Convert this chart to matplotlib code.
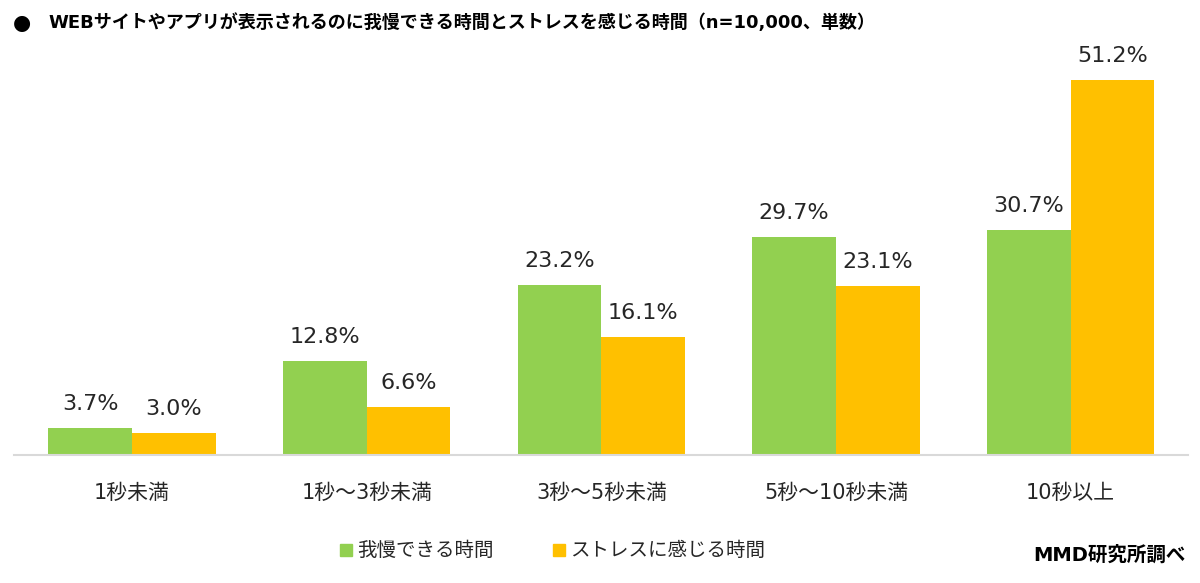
import matplotlib
matplotlib.use("Agg")
import matplotlib.pyplot as plt
import numpy as np
from matplotlib.patches import Rectangle

plt.rcParams['font.family'] = ['DejaVu Sans', 'Noto Sans CJK JP']

categories = ["1秒未満", "1秒〜3秒未満", "3秒〜5秒未満", "5秒〜10秒未満", "10秒以上"]
series_names = ["我慢できる時間", "ストレスに感じる時間"]
gaman = [3.7, 12.8, 23.2, 29.7, 30.7]
stress = [3.0, 6.6, 16.1, 23.1, 51.2]
title = "WEBサイトやアプリが表示されるのに我慢できる時間とストレスを感じる時間（n=10,000、単数）"
source = "MMD研究所調べ"

green = "#92D050"
orange = "#FFC000"

fig = plt.figure(figsize=(12, 5.83), dpi=100)
ax = fig.add_axes([14/1200, (583-455)/583, 1174/1200, (455-52)/583])

x = np.arange(len(categories))
w = 0.357
b1 = ax.bar(x - w/2, gaman, w, color=green)
b2 = ax.bar(x + w/2, stress, w, color=orange)

for bars, vals in ((b1, gaman), (b2, stress)):
    for r, v in zip(bars, vals):
        ax.annotate(f"{v:.1f}%", (r.get_x() + r.get_width()/2, v),
                    xytext=(0, 10), textcoords="offset points",
                    ha="center", va="bottom", fontsize=16, color="#262626")

ax.set_xlim(-0.503, 4.5)
ax.set_ylim(0, 55)
for s in ["top", "right", "left"]:
    ax.spines[s].set_visible(False)
ax.spines["bottom"].set_color("#D9D9D9")
ax.spines["bottom"].set_linewidth(1.5)
ax.set_yticks([])
ax.set_xticks(x)
ax.set_xticklabels(categories, fontsize=15, color="#262626")
ax.tick_params(axis="x", length=0, pad=20)

fig.text(22/1200, 1 - 23/583, "●", fontsize=15, va="center", ha="center",
         color="#000000")
fig.text(48/1200, 1 - 23/583, title, fontsize=13, fontweight="bold",
         va="center", ha="left", color="#000000",
         family=['DejaVu Sans', 'Noto Sans CJK JP'])

# legend
ly = 1 - 550/583
for xs, col, name in ((340, green, series_names[0]), (553, orange, series_names[1])):
    fig.patches.append(Rectangle((xs/1200, ly - 6/583), 12/1200, 12/583,
                                 transform=fig.transFigure, color=col, figure=fig))
    fig.text((xs + 17)/1200, ly, name, fontsize=14, va="center", ha="left",
             color="#262626", family=['Noto Sans CJK JP', 'DejaVu Sans'])

fig.text(1186/1200, 1 - 555/583, source, fontsize=14, fontweight="bold",
         va="center", ha="right", color="#000000",
         family=['DejaVu Sans', 'Noto Sans CJK JP'])

fig.savefig("out.png", dpi=100)
